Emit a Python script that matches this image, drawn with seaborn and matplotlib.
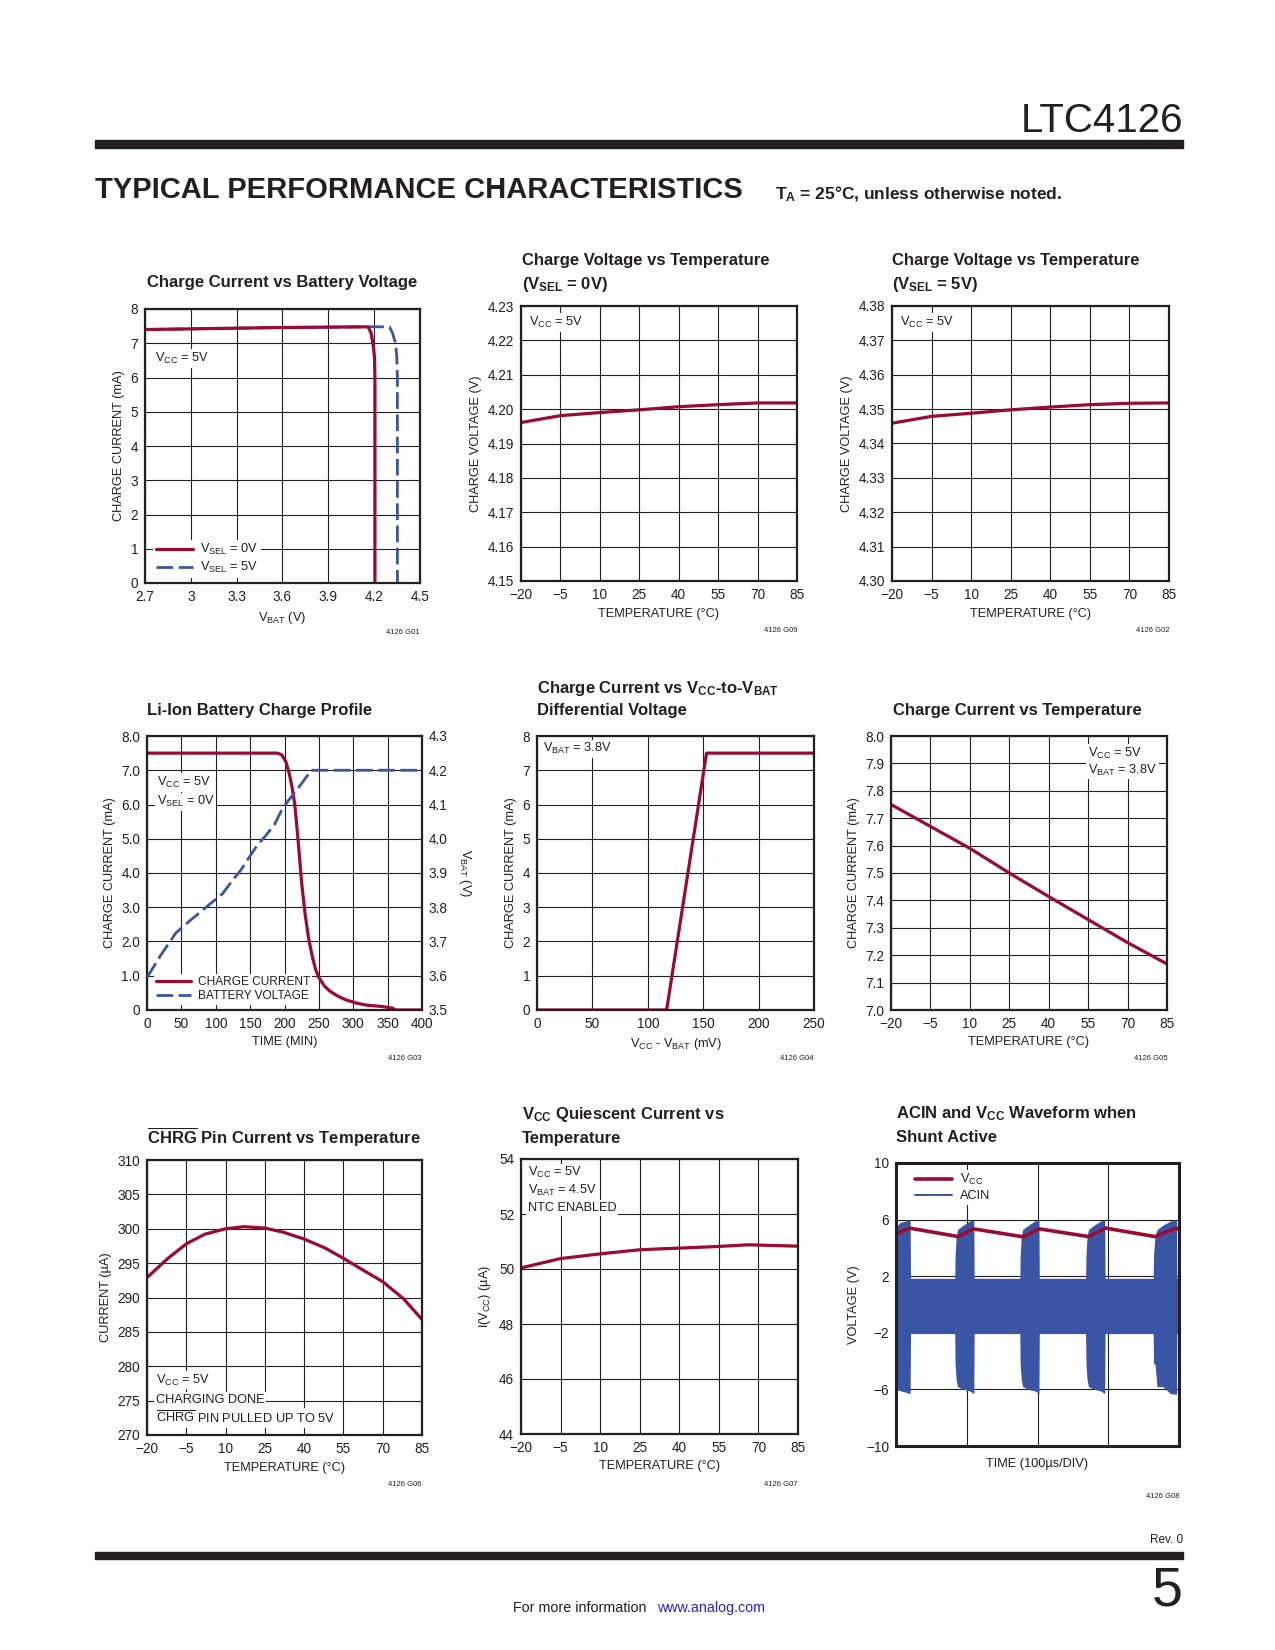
import matplotlib
matplotlib.use("Agg")
import matplotlib.pyplot as plt
from matplotlib.lines import Line2D
from matplotlib.patches import Rectangle
import seaborn as sns

RED = "#9b0a32"
BLUE = "#3a55a5"
INK = "#231f20"

# ---- G01 charge current vs battery voltage
vbat_sel0 = [2.7, 3.0, 3.3, 3.6, 3.9, 4.16, 4.18, 4.195, 4.202, 4.205, 4.205]
ichg_sel0 = [7.40, 7.42, 7.44, 7.46, 7.47, 7.48, 7.30, 6.90, 6.60, 6.00, 0.0]
vbat_sel5 = [2.7, 3.0, 3.3, 3.6, 3.9, 4.16, 4.30, 4.32, 4.34, 4.348, 4.352, 4.352]
ichg_sel5 = [7.40, 7.42, 7.44, 7.46, 7.47, 7.48, 7.48, 7.30, 7.00, 6.60, 6.00, 0.0]

# ---- G09 / G02 charge voltage vs temperature
temp = [-20, -5, 10, 25, 40, 55, 70, 85]
vchg_sel0 = [4.1961, 4.1981, 4.1990, 4.1998, 4.2007, 4.2013, 4.2018, 4.2018]
vchg_sel5 = [4.3459, 4.3479, 4.3488, 4.3498, 4.3506, 4.3513, 4.3517, 4.3518]

# ---- G03 Li-Ion charge profile
prof_t_i = [0, 190, 196, 202, 207, 211, 215, 220, 225, 230, 235, 240, 245, 250,
            258, 266, 278, 290, 305, 320, 343, 358, 361, 400]
prof_i = [7.5, 7.5, 7.45, 7.25, 6.9, 6.5, 6.0, 4.9, 3.7, 2.8, 2.1, 1.6, 1.2, 0.95,
          0.7, 0.55, 0.4, 0.29, 0.2, 0.14, 0.1, 0.05, 0.0, 0.0]
prof_t_v = [0, 20, 42, 62, 86, 110, 125, 137, 150, 160, 173, 185, 195, 205, 217,
            228, 239, 400]
prof_v = [3.595, 3.66, 3.725, 3.76, 3.80, 3.84, 3.88, 3.91, 3.95, 3.98, 4.01, 4.04,
          4.08, 4.11, 4.14, 4.17, 4.20, 4.20]

# ---- G04 charge current vs VCC-VBAT
diff_mv = [0, 117, 153, 250]
ichg_diff = [0.0, 0.0, 7.5, 7.5]

# ---- G05 charge current vs temperature
ichg_temp = [7.75, 7.67, 7.59, 7.50, 7.414, 7.33, 7.246, 7.168]

# ---- G06 CHRG pin current vs temperature
temp_chrg = [-20, -12, -5, 2, 10, 17, 25, 32, 40, 48, 55, 62, 70, 78, 85]
i_chrg = [292.9, 295.7, 297.8, 299.2, 300.0, 300.3, 300.1, 299.5, 298.5, 297.2,
          295.7, 294.1, 292.3, 289.8, 286.8]

# ---- G07 VCC quiescent current vs temperature
temp_iq = [-20, -5, 10, 25, 40, 55, 66, 70, 85]
i_q = [50.04, 50.38, 50.55, 50.70, 50.76, 50.82, 50.88, 50.87, 50.83]

# ---- G08 ACIN / VCC waveform (time in us, 100us/div)
vcc_t = [0, 19, 88, 109, 180, 202, 272, 296, 366, 396, 400]
vcc_v = [5.0, 5.4, 4.8, 5.35, 4.78, 5.35, 4.8, 5.4, 4.8, 5.4, 5.3]
# ACIN is a fast oscillation: its upper / lower envelope
acin_t = [0, 6, 14, 20, 20.5,
          83, 83.5, 85, 87, 95, 104, 110, 110.5,
          175, 175.5, 177, 179, 187, 196, 202, 202.5,
          268, 268.5, 270, 272, 280, 289, 295, 295.5,
          363.5, 364, 366, 369, 377, 388, 396.5, 397, 400]
acin_hi = [5.5, 5.8, 5.9, 6.0, 1.85,
           1.85, 3.4, 4.8, 5.3, 5.6, 5.9, 6.0, 1.85,
           1.85, 3.4, 4.8, 5.3, 5.6, 5.9, 6.0, 1.85,
           1.85, 3.4, 4.8, 5.3, 5.6, 5.9, 6.0, 1.85,
           1.85, 3.5, 4.8, 5.3, 5.6, 5.9, 6.0, 1.85, 1.85]
acin_lo = [-6.0, -6.1, -6.2, -6.3, -2.05,
           -2.05, -4.2, -5.3, -5.8, -6.0, -6.1, -6.3, -2.05,
           -2.05, -4.2, -5.3, -5.8, -6.0, -6.1, -6.3, -2.05,
           -2.05, -4.2, -5.3, -5.8, -6.0, -6.1, -6.3, -2.05,
           -2.05, -4.2, -4.2, -5.8, -5.8, -6.3, -6.35, -2.05, -2.05]

# ---- tick lists
temp_ticks = [-20, -5, 10, 25, 40, 55, 70, 85]
temp_labels = ["\u221220", "\u22125", "10", "25", "40", "55", "70", "85"]
g01_xticks = [2.7, 3.0, 3.3, 3.6, 3.9, 4.2, 4.5]
g01_xlabels = ["2.7", "3", "3.3", "3.6", "3.9", "4.2", "4.5"]
ma_ticks = [0, 1, 2, 3, 4, 5, 6, 7, 8]
g09_yticks = [4.15, 4.16, 4.17, 4.18, 4.19, 4.20, 4.21, 4.22, 4.23]
g02_yticks = [4.30, 4.31, 4.32, 4.33, 4.34, 4.35, 4.36, 4.37, 4.38]
g03_xticks = [0, 50, 100, 150, 200, 250, 300, 350, 400]
g03_ylabels = ["0", "1.0", "2.0", "3.0", "4.0", "5.0", "6.0", "7.0", "8.0"]
g03_vticks = [3.5, 3.6, 3.7, 3.8, 3.9, 4.0, 4.1, 4.2, 4.3]
g04_xticks = [0, 50, 100, 150, 200, 250]
g05_yticks = [7.0, 7.1, 7.2, 7.3, 7.4, 7.5, 7.6, 7.7, 7.8, 7.9, 8.0]
g06_yticks = [270, 275, 280, 285, 290, 295, 300, 305, 310]
g07_yticks = [44, 46, 48, 50, 52, 54]
g08_yticks = [-10, -6, -2, 2, 6, 10]
g08_ylabels = ["\u221210", "\u22126", "\u22122", "2", "6", "10"]
g08_xticks = [0, 100, 200, 300, 400]

sns.set_theme(style="white")
plt.rcParams["font.family"] = ["Liberation Sans", "DejaVu Sans"]
plt.rcParams["mathtext.default"] = "regular"
plt.rcParams["text.color"] = INK
plt.rcParams["axes.labelcolor"] = INK

LAB = 9.2   # axis labels, notes, legends

W, H = 1275, 1650
fig = plt.figure(figsize=(W / 100, H / 100), dpi=100)


def fx(x):
    return x / W


def fy(y):
    return 1 - y / H


def make_ax(l, t, r, b):
    return fig.add_axes([l / W, 1 - b / H, (r - l) / W, (b - t) / H])


def style(ax, xlim, ylim, xticks, yticks, xlabels=None, ylabels=None, lw=1.6):
    ax.set_xlim(xlim)
    ax.set_ylim(ylim)
    ax.set_xticks(xticks)
    ax.set_yticks(yticks)
    if xlabels is not None:
        ax.set_xticklabels(xlabels)
    if ylabels is not None:
        ax.set_yticklabels(ylabels)
    ax.grid(True, color=INK, linewidth=0.8)
    ax.set_axisbelow(True)
    for s in ax.spines.values():
        s.set_visible(True)
        s.set_color(INK)
        s.set_linewidth(lw)
    ax.tick_params(length=0, pad=5, labelsize=9.8, colors=INK)


def line(ax, x, y, color=RED, lw=2.3, ls="-"):
    sns.lineplot(x=x, y=y, ax=ax, color=color, linewidth=lw, linestyle=ls,
                 estimator=None, sort=False, errorbar=None, legend=False)


def note(ax, x, y, s, ha="left"):
    ax.text(x, y, s, transform=ax.transAxes, ha=ha, va="center", fontsize=LAB,
            color=INK, zorder=6,
            bbox=dict(facecolor="white", edgecolor="none", pad=1.2))


def legend(ax, handles, labels, loc, anchor, size=LAB):
    leg = ax.legend(handles, labels, loc=loc, bbox_to_anchor=anchor, frameon=True,
                    fancybox=False, framealpha=1, facecolor="white",
                    edgecolor="none", fontsize=size, handlelength=2.9,
                    handletextpad=0.6, labelspacing=0.2, borderpad=0.2,
                    borderaxespad=0.2)
    leg.set_zorder(7)


def title(x, y, s):
    fig.text(fx(x), fy(y), s, fontsize=12, fontweight="bold", va="center",
             ha="left", color=INK)


def fig_id(x, y, s):
    fig.text(fx(x), fy(y), s, fontsize=5.5, ha="right", va="center", color=INK)


dash_long = (0, (6, 2))

# ---------------- row 1
ax1 = make_ax(145, 309, 420, 583)
line(ax1, vbat_sel5, ichg_sel5, BLUE, 2.0, dash_long)
line(ax1, vbat_sel0, ichg_sel0, RED, 2.3)
style(ax1, (2.7, 4.5), (0, 8), g01_xticks, ma_ticks, g01_xlabels)
ax1.set_xlabel("V$_{BAT}$ (V)", fontsize=LAB)
ax1.set_ylabel("CHARGE CURRENT (mA)", fontsize=LAB)
note(ax1, 0.036, 0.82, "V$_{CC}$ = 5V")
legend(ax1, [Line2D([], [], color=RED, lw=2.3),
             Line2D([], [], color=BLUE, lw=2.0, ls=dash_long)],
       ["V$_{SEL}$ = 0V", "V$_{SEL}$ = 5V"], "lower left", (0.02, 0.01))
title(147, 283, "Charge Current vs Battery Voltage")
fig_id(420, 632, "4126 G01")

ax2 = make_ax(521, 306, 797, 581)
line(ax2, temp, vchg_sel0)
style(ax2, (-20, 85), (4.15, 4.23), temp_ticks, g09_yticks, temp_labels,
      [f"{v:.2f}" for v in g09_yticks])
ax2.set_xlabel("TEMPERATURE (°C)", fontsize=LAB)
ax2.set_ylabel("CHARGE VOLTAGE (V)", fontsize=LAB)
note(ax2, 0.03, 0.94, "V$_{CC}$ = 5V")
title(522, 261, "Charge Voltage vs Temperature")
title(522, 285, "(V$_{SEL}$ = 0V)")
fig_id(797, 630, "4126 G09")

ax3 = make_ax(892, 306, 1169, 581)
line(ax3, temp, vchg_sel5)
style(ax3, (-20, 85), (4.30, 4.38), temp_ticks, g02_yticks, temp_labels,
      [f"{v:.2f}" for v in g02_yticks])
ax3.set_xlabel("TEMPERATURE (°C)", fontsize=LAB)
ax3.set_ylabel("CHARGE VOLTAGE (V)", fontsize=LAB)
note(ax3, 0.03, 0.94, "V$_{CC}$ = 5V")
title(892, 261, "Charge Voltage vs Temperature")
title(892, 285, "(V$_{SEL}$ = 5V)")
fig_id(1169, 630, "4126 G02")

# ---------------- row 2
ax4 = make_ax(147, 736, 422, 1010)
line(ax4, prof_t_i, prof_i)
style(ax4, (0, 400), (0, 8), g03_xticks, ma_ticks, None, g03_ylabels)
ax4.set_xlabel("TIME (MIN)", fontsize=LAB)
ax4.set_ylabel("CHARGE CURRENT (mA)", fontsize=LAB)
ax4r = ax4.twinx()
line(ax4r, prof_t_v, prof_v, BLUE, 2.0, dash_long)
ax4r.set_ylim(3.5, 4.3)
ax4r.set_yticks(g03_vticks)
ax4r.set_yticklabels([f"{v:.1f}" for v in g03_vticks])
ax4r.tick_params(length=0, pad=5, labelsize=9.8, colors=INK)
ax4r.grid(False)
for s in ax4r.spines.values():
    s.set_visible(False)
ax4r.set_ylabel("V$_{BAT}$ (V)", fontsize=LAB, rotation=270, labelpad=18)
note(ax4, 0.036, 0.83, "V$_{CC}$ = 5V")
note(ax4, 0.036, 0.76, "V$_{SEL}$ = 0V")
legend(ax4r, [Line2D([], [], color=RED, lw=2.3),
              Line2D([], [], color=BLUE, lw=2.0, ls=dash_long)],
       ["CHARGE CURRENT", "BATTERY VOLTAGE"], "lower left", (0.015, 0.01),
       size=8.6)
title(147, 710, "Li-Ion Battery Charge Profile")
fig_id(422, 1059, "4126 G03")

ax5 = make_ax(537, 736, 814, 1010)
line(ax5, diff_mv, ichg_diff)
style(ax5, (0, 250), (0, 8), g04_xticks, ma_ticks)
ax5.set_xlabel("V$_{CC}$ - V$_{BAT}$ (mV)", fontsize=LAB)
ax5.set_ylabel("CHARGE CURRENT (mA)", fontsize=LAB)
note(ax5, 0.02, 0.953, "V$_{BAT}$ = 3.8V")
title(537, 688, "Charge Current vs V$_{CC}$-to-V$_{BAT}$")
title(537, 711, "Differential Voltage")
fig_id(814, 1059, "4126 G04")

ax6 = make_ax(891, 736, 1167, 1010)
line(ax6, temp, ichg_temp)
style(ax6, (-20, 85), (7.0, 8.0), temp_ticks, g05_yticks, temp_labels,
      [f"{v:.1f}" for v in g05_yticks])
ax6.set_xlabel("TEMPERATURE (°C)", fontsize=LAB)
ax6.set_ylabel("CHARGE CURRENT (mA)", fontsize=LAB)
note(ax6, 0.714, 0.938, "V$_{CC}$ = 5V")
note(ax6, 0.714, 0.876, "V$_{BAT}$ = 3.8V")
title(893, 711, "Charge Current vs Temperature")
fig_id(1167, 1059, "4126 G05")

# ---------------- row 3
ax7 = make_ax(147, 1160, 422, 1435)
line(ax7, temp_chrg, i_chrg)
style(ax7, (-20, 85), (270, 310), temp_ticks, g06_yticks, temp_labels)
ax7.set_xlabel("TEMPERATURE (°C)", fontsize=LAB)
ax7.set_ylabel("CURRENT (µA)", fontsize=LAB)
note(ax7, 0.033, 0.20, "V$_{CC}$ = 5V")
note(ax7, 0.033, 0.127, "CHARGING DONE")
note(ax7, 0.033, 0.062, r"$\overline{CHRG}$ PIN PULLED UP TO 5V")
title(147, 1137, r"$\overline{CHRG}$ Pin Current vs Temperature")
fig_id(422, 1485, "4126 G06")

ax8 = make_ax(521, 1159, 798, 1434)
line(ax8, temp_iq, i_q)
style(ax8, (-20, 85), (44, 54), temp_ticks, g07_yticks, temp_labels)
ax8.set_xlabel("TEMPERATURE (°C)", fontsize=LAB)
ax8.set_ylabel("I(V$_{CC}$) (µA)", fontsize=LAB)
note(ax8, 0.025, 0.95, "V$_{CC}$ = 5V")
note(ax8, 0.025, 0.884, "V$_{BAT}$ = 4.5V")
note(ax8, 0.025, 0.822, "NTC ENABLED")
title(522, 1115, "V$_{CC}$ Quiescent Current vs")
title(522, 1138, "Temperature")
fig_id(798, 1485, "4126 G07")

ax9 = make_ax(896, 1163, 1179, 1446)
ax9.fill_between(acin_t, acin_lo, acin_hi, color=BLUE, linewidth=0, zorder=2)
line(ax9, vcc_t, vcc_v, RED, 2.6)
style(ax9, (0, 400), (-10, 10), g08_xticks, g08_yticks,
      ["", "", "", "", ""], g08_ylabels, lw=2.2)
ax9.set_xlabel("TIME (100µs/DIV)", fontsize=LAB)
ax9.set_ylabel("VOLTAGE (V)", fontsize=LAB)
legend(ax9, [Line2D([], [], color=RED, lw=2.6),
             Line2D([], [], color=BLUE, lw=1.4)],
       ["V$_{CC}$", "ACIN"], "upper left", (0.05, 0.985))
title(896, 1114, "ACIN and V$_{CC}$ Waveform when")
title(896, 1137, "Shunt Active")
fig_id(1179, 1496, "4126 G08")

# ---------------- page furniture
fig.patches.append(Rectangle((fx(95), fy(147.5)), fx(1183) - fx(95), 7 / H,
                             transform=fig.transFigure, color=INK, zorder=0))
fig.patches.append(Rectangle((fx(95), fy(1559)), fx(1183) - fx(95), 7 / H,
                             transform=fig.transFigure, color=INK, zorder=0))
fig.text(fx(1183), fy(121), "LTC4126", fontsize=29, ha="right", va="center",
         color=INK)
fig.text(fx(95), fy(190), "TYPICAL PERFORMANCE CHARACTERISTICS", fontsize=21,
         fontweight="heavy", ha="left", va="center", color=INK)
fig.text(fx(775), fy(194), "T$_A$ = 25°C, unless otherwise noted.", fontsize=12.5,
         fontweight="bold", ha="left", va="center", color=INK)
fig.text(fx(1183), fy(1540), "Rev. 0", fontsize=8.5, ha="right", va="center",
         color=INK)
fig.text(fx(1183), fy(1592), "5", fontsize=40, ha="right", va="center",
         color=INK)
fig.text(fx(513), fy(1608), "For more information", fontsize=10.3, ha="left",
         va="center", color=INK)
fig.text(fx(657), fy(1608), "www.analog.com", fontsize=10.3, ha="left",
         va="center", color="#2222ee")

fig.savefig("out.png", dpi=100, facecolor="white")
